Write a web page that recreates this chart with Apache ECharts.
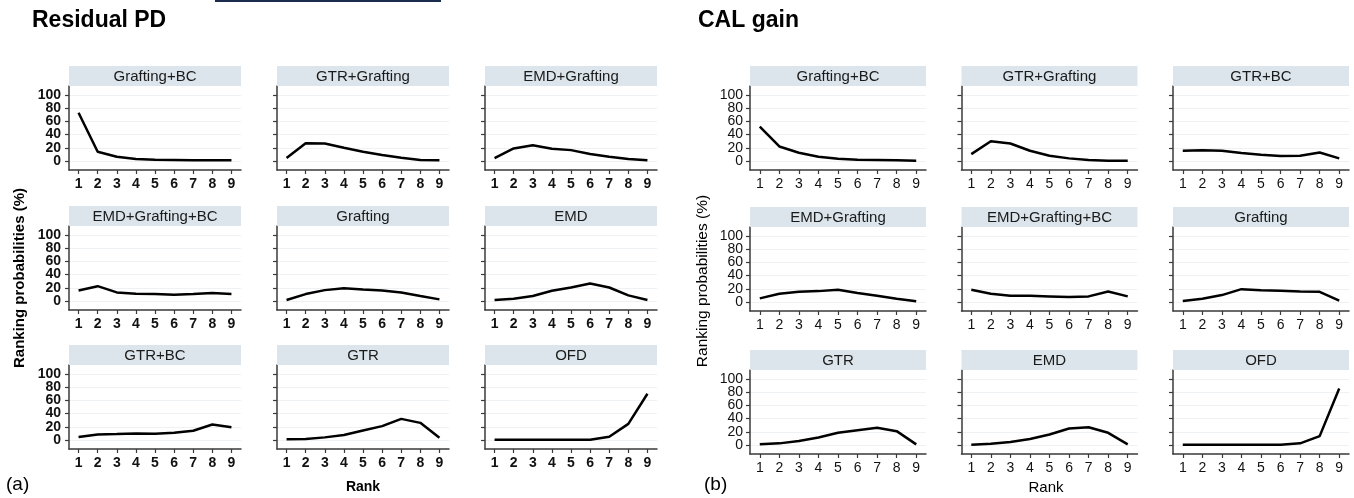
<!DOCTYPE html>
<html><head><meta charset="utf-8">
<script src="https://cdn.jsdelivr.net/npm/echarts@6/dist/echarts.min.js"></script>
<style>html,body{margin:0;padding:0;background:#fff}#c{width:1354px;height:498px}</style>
</head><body><div id="c"></div>
<script>
// ---------- data ----------
const ranks = ['1','2','3','4','5','6','7','8','9'];
const yTicks = [0, 20, 40, 60, 80, 100];
const yLabelsA = [0, 40, 80];   // labels drawn by the main y axis
const yLabelsB = [20, 60, 100]; // labels drawn by a companion y axis (avoids min/max overlap hiding)

// Residual PD panel (a)
const pdNames = ['Grafting+BC','GTR+Grafting','EMD+Grafting','EMD+Grafting+BC','Grafting','EMD','GTR+BC','GTR','OFD'];
const pdGraftingBC      = [73, 14, 6.5, 3, 2, 1.5, 1, 1, 1];
const pdGTRGrafting     = [4.5, 27, 26.5, 20, 14, 9, 5, 1.5, 1];
const pdEMDGrafting     = [4.5, 19, 24, 18.5, 16.5, 10.5, 6.5, 3, 1];
const pdEMDGraftingBC   = [16, 22.5, 13, 11, 10.5, 9.5, 10.5, 12, 10.5];
const pdGrafting        = [1.5, 10.5, 16.5, 19.5, 17.5, 16, 13, 7.5, 2.5];
const pdEMD             = [1.5, 3.5, 7.5, 15.5, 20.5, 26.5, 20.5, 8.5, 1.5];
const pdGTRBC           = [4.5, 8.5, 9, 10, 9.5, 11, 14, 23.5, 19.5];
const pdGTR             = [1, 1.5, 4, 7.5, 14.5, 21, 32, 26, 3.5];
const pdOFD             = [0.5, 0.5, 0.5, 0.5, 0.5, 0.5, 5, 24.5, 70];

// CAL gain panel (b)
const calNames = ['Grafting+BC','GTR+Grafting','GTR+BC','EMD+Grafting','EMD+Grafting+BC','Grafting','GTR','EMD','OFD'];
const calGraftingBC     = [52, 22, 12.5, 6.5, 3.5, 2, 1.5, 1, 0.5];
const calGTRGrafting    = [10.5, 30, 26.5, 15.5, 8, 4, 1.5, 0.5, 0.5];
const calGTRBC          = [15.7, 16.2, 15.7, 12, 9.6, 7.6, 8, 13, 4];
const calEMDGrafting    = [5.5, 12.5, 15.5, 16.5, 18.5, 13.5, 9.5, 5, 1];
const calEMDGraftingBC  = [18.5, 12.5, 9.5, 9.5, 8.5, 7.5, 8.5, 16, 8.5];
const calGrafting       = [1.5, 5, 10.5, 19.5, 18, 17, 16, 15.5, 2];
const calGTR            = [1, 2.5, 6, 11.5, 18.5, 22.5, 26, 21, 1];
const calEMD            = [0.5, 2, 4.5, 9, 16, 25, 27, 18.5, 1];
const calOFD            = [0.5, 0.5, 0.5, 0.5, 0.5, 0.5, 2.5, 13.5, 85.5];

const pdSeries  = [pdGraftingBC, pdGTRGrafting, pdEMDGrafting, pdEMDGraftingBC, pdGrafting, pdEMD, pdGTRBC, pdGTR, pdOFD];
const calSeries = [calGraftingBC, calGTRGrafting, calGTRBC, calEMDGrafting, calEMDGraftingBC, calGrafting, calGTR, calEMD, calOFD];

// ---------- layout ----------
const FONT = "'Liberation Sans', Arial, sans-serif";
const panels = [
  { names: pdNames, series: pdSeries, colX: [69, 277, 485], width: 172, rowTop: [66, 206, 345], bold: true, labelMargin: 8 },
  { names: calNames, series: calSeries, colX: [750, 961.5, 1173], width: 176, rowTop: [66, 207, 350], bold: false, labelMargin: 7 }
];
const HEAD_H = 20, PLOT_H = 84, Y_MIN = -13.6, Y_MAX = 113.6;

const grids = [], xAxes = [], yAxes = [], series = [], graphics = [];
let gi = 0;
panels.forEach(p => {
  const labelStyle = { fontSize: 14, fontWeight: p.bold ? 'bold' : 'normal', fontFamily: FONT, color: '#111',
                       showMinLabel: true, showMaxLabel: true, hideOverlap: false };
  for (let k = 0; k < 9; k++) {
    const r = Math.floor(k / 3), c = k % 3;
    const left = p.colX[c], top = p.rowTop[r];
    grids.push({ left: left, top: top + HEAD_H, width: p.width, height: PLOT_H, containLabel: false, outerBoundsMode: 'none' });
    graphics.push({ type: 'rect', shape: { x: left, y: top, width: p.width, height: HEAD_H }, style: { fill: '#dbe5eb' }, z: 1 });
    graphics.push({ type: 'text', x: left + p.width / 2, y: top + HEAD_H / 2 + 1, z: 2,
      style: { text: p.names[k], align: 'center', verticalAlign: 'middle', fontSize: 15, fontFamily: FONT, fill: '#1a1a1a' } });
    xAxes.push({
      gridIndex: gi, type: 'category', data: ranks, boundaryGap: true,
      axisLine: { show: true, onZero: false, lineStyle: { color: '#3a3a3a', width: 1.5 } },
      axisTick: { show: true, alignWithLabel: true, length: 4, lineStyle: { color: '#3a3a3a', width: 1.2 } },
      axisLabel: Object.assign({ interval: 0, margin: 7 }, labelStyle),
      splitLine: { show: false }
    });
    const mainY = yAxes.length;
    yAxes.push({
      gridIndex: gi, type: 'value', min: Y_MIN, max: Y_MAX, position: 'left',
      axisLine: { show: true, onZero: false, lineStyle: { color: '#3a3a3a', width: 1.5 } },
      axisTick: { show: true, length: 4, customValues: yTicks, lineStyle: { color: '#3a3a3a', width: 1.2 } },
      axisLabel: Object.assign({ show: c === 0, customValues: yLabelsA, margin: p.labelMargin }, labelStyle),
      splitLine: { show: true, lineStyle: { color: '#eef2f5', width: 1 } }
    });
    yAxes.push({
      gridIndex: gi, type: 'value', min: Y_MIN, max: Y_MAX, position: 'left', offset: 0,
      axisLine: { show: false, onZero: false }, axisTick: { show: false }, splitLine: { show: false },
      axisLabel: Object.assign({ show: c === 0, customValues: yLabelsB, margin: p.labelMargin }, labelStyle)
    });
    series.push({
      type: 'line', xAxisIndex: gi, yAxisIndex: mainY, data: p.series[k],
      symbol: 'none', smooth: false, silent: true,
      lineStyle: { color: '#000', width: 2.5 }, z: 3
    });
    gi++;
  }
});

// titles and labels
const txt = (text, x, y, opts) => Object.assign({ type: 'text', x: x, y: y, z: 5,
  style: Object.assign({ text: text, fontFamily: FONT, fill: '#000', fontSize: 14 }, opts.style || {}) }, opts.el || {});
graphics.push({ type: 'rect', shape: { x: 215, y: 0, width: 226, height: 2 }, style: { fill: '#1b2b4d' }, z: 5 });
graphics.push(txt('Residual PD', 32, 21, { style: { fontSize: 23, fontWeight: 'bold', verticalAlign: 'middle' } }));
graphics.push(txt('CAL gain', 698, 21, { style: { fontSize: 23, fontWeight: 'bold', verticalAlign: 'middle' } }));
graphics.push(txt('Rank', 363, 487, { style: { fontWeight: 'bold', align: 'center', verticalAlign: 'middle' } }));
graphics.push(txt('Rank', 1046, 488, { style: { fontSize: 15, align: 'center', verticalAlign: 'middle' } }));
graphics.push(txt('Ranking probabilities (%)', 20, 278, { style: { fontSize: 15, fontWeight: 'bold', align: 'center', verticalAlign: 'middle' }, el: { rotation: Math.PI / 2 } }));
graphics.push(txt('Ranking probabilities (%)', 703, 281, { style: { fontSize: 15.5, align: 'center', verticalAlign: 'middle' }, el: { rotation: Math.PI / 2 } }));
graphics.push(txt('(a)', 6, 485, { style: { fontSize: 19, verticalAlign: 'middle' } }));
graphics.push(txt('(b)', 704, 485, { style: { fontSize: 19, verticalAlign: 'middle' } }));

const chart = echarts.init(document.getElementById('c'), null, { renderer: 'canvas' });
chart.setOption({
  animation: false,
  backgroundColor: '#fff',
  grid: grids, xAxis: xAxes, yAxis: yAxes, series: series,
  graphic: { elements: graphics }
});
</script>
</body></html>
